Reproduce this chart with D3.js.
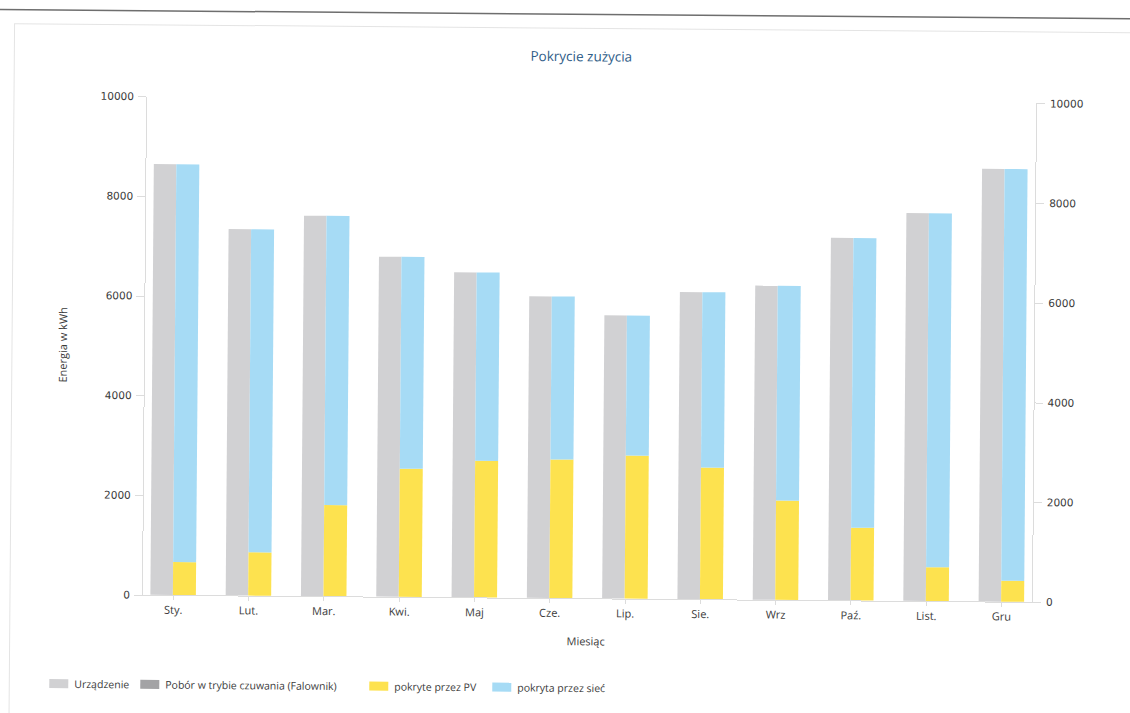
<!DOCTYPE html>
<html>
<head>
<meta charset="utf-8">
<script src="https://cdn.jsdelivr.net/npm/d3@7"></script>
<style>
  body { margin: 0; background: #fff; }
  svg { display: block; }
  .axis path, .axis line { stroke: #dcdcdc; shape-rendering: crispEdges; }
  .axis text { fill: #3a3a3a; }
</style>
</head>
<body>
<div id="chart"></div>
<script>
// data (kWh)
var months = ["Sty.", "Lut.", "Mar.", "Kwi.", "Maj", "Cze.", "Lip.", "Sie.", "Wrz", "Paź.", "List.", "Gru"];
var urzadzenie = [8640, 7350, 7630, 6820, 6520, 6050, 5680, 6160, 6300, 7270, 7780, 8680];
var czuwanie = [0, 0, 0, 0, 0, 0, 0, 0, 0, 0, 0, 0];
var pokrytePV = [660, 870, 1830, 2570, 2740, 2780, 2870, 2640, 1990, 1460, 680, 420];
var pokryteSiec = [7980, 6480, 5800, 4250, 3780, 3270, 2810, 3520, 4310, 5810, 7100, 8260];
var yTicks = [0, 2000, 4000, 6000, 8000, 10000];
var legendNames = ["Urządzenie", "Pobór w trybie czuwania (Falownik)", "pokryte przez PV", "pokryta przez sieć"];

var W = 1130, H = 713;
var plotL = 142, plotR = 1032, plotT = 96.5, plotB = 595;
var cGray = "#d1d1d3", cDark = "#a3a3a5", cYellow = "#fde24f", cBlue = "#a6dbf5";

var svg = d3.select("#chart").append("svg")
    .attr("width", W)
    .attr("height", H);

// the scan is slightly tilted, so everything goes in one rotated group
var g = svg.append("g")
    .attr("transform", "rotate(0.46,175,595)");

// page lines / frame
g.append("line")
    .attr("x1", -20).attr("x2", W + 20)
    .attr("y1", 11).attr("y2", 11)
    .attr("stroke", "#6e6e6e").attr("stroke-width", 1.5);
g.append("rect")
    .attr("x", 10).attr("y", 25)
    .attr("width", W + 40).attr("height", H)
    .attr("fill", "none").attr("stroke", "#e4e4e4");

g.append("text")
    .attr("x", 577).attr("y", 58)
    .attr("text-anchor", "middle")
    .style("font-family", "'Open Sans', sans-serif")
    .style("font-size", "13.5px")
    .style("fill", "#2f5d88")
    .text("Pokrycie zużycia");

var x = d3.scalePoint()
    .domain(months)
    .range([plotL, plotR])
    .padding(0.41);

var y = d3.scaleLinear()
    .domain([0, 10000])
    .range([plotB, plotT]);

var barW = 22.5;
var fmt = d3.format("d");

// left axis
var yl = g.append("g")
    .attr("class", "axis")
    .attr("transform", "translate(" + plotL + ",0)")
    .call(d3.axisLeft(y).tickValues(yTicks).tickFormat(fmt).tickSize(8).tickPadding(4).tickSizeOuter(0));
yl.selectAll("text").style("font-family", "'DejaVu Sans', sans-serif").style("font-size", "10.5px");

// right axis
var yr = g.append("g")
    .attr("class", "axis")
    .attr("transform", "translate(" + plotR + ",0)")
    .call(d3.axisRight(y).tickValues(yTicks).tickFormat(fmt).tickSize(9).tickPadding(5).tickSizeOuter(0));
yr.selectAll("text").style("font-family", "'DejaVu Sans', sans-serif").style("font-size", "10.5px");

// bars: gray stack (device + standby) and coverage stack (PV + grid)
var rows = months.map(function(m, i) {
  return {m: m, dev: urzadzenie[i], stb: czuwanie[i], pv: pokrytePV[i], grid: pokryteSiec[i]};
});

var bars = g.append("g");
bars.selectAll(".dev").data(rows).enter().append("rect")
    .attr("x", function(d) { return x(d.m) - barW; })
    .attr("y", function(d) { return y(d.dev); })
    .attr("width", barW)
    .attr("height", function(d) { return y(0) - y(d.dev); })
    .attr("fill", cGray);
bars.selectAll(".stb").data(rows).enter().append("rect")
    .attr("x", function(d) { return x(d.m) - barW; })
    .attr("y", function(d) { return y(d.dev + d.stb); })
    .attr("width", barW)
    .attr("height", function(d) { return y(d.dev) - y(d.dev + d.stb); })
    .attr("fill", cDark);
bars.selectAll(".pv").data(rows).enter().append("rect")
    .attr("x", function(d) { return x(d.m); })
    .attr("y", function(d) { return y(d.pv); })
    .attr("width", barW + 0.5)
    .attr("height", function(d) { return y(0) - y(d.pv); })
    .attr("fill", cYellow);
bars.selectAll(".grid").data(rows).enter().append("rect")
    .attr("x", function(d) { return x(d.m); })
    .attr("y", function(d) { return y(d.pv + d.grid); })
    .attr("width", barW + 0.5)
    .attr("height", function(d) { return y(d.pv) - y(d.pv + d.grid); })
    .attr("fill", cBlue);

// bottom axis
var xa = g.append("g")
    .attr("class", "axis")
    .attr("transform", "translate(0," + plotB + ")")
    .call(d3.axisBottom(x).tickSize(5).tickPadding(6).tickSizeOuter(0));
xa.selectAll("text").style("font-family", "'Open Sans', sans-serif").style("font-size", "11px");

g.append("text")
    .attr("x", 586).attr("y", 642)
    .attr("text-anchor", "middle")
    .style("font-family", "'Open Sans', sans-serif")
    .style("font-size", "11px")
    .style("fill", "#3a3a3a")
    .text("Miesiąc");

g.append("text")
    .attr("transform", "translate(65," + ((plotT + plotB) / 2) + ") rotate(-90)")
    .attr("text-anchor", "middle")
    .style("font-family", "'Open Sans', sans-serif")
    .style("font-size", "11px")
    .style("fill", "#3a3a3a")
    .text("Energia w kWh");

// legend
var legX = [50, 141, 370, 493];
var legC = [cGray, cDark, cYellow, cBlue];
var leg = g.selectAll(".leg").data(legendNames).enter().append("g")
    .attr("transform", function(d, i) { return "translate(" + legX[i] + ",685)"; });
leg.append("rect")
    .attr("x", 0).attr("y", -5)
    .attr("width", 19).attr("height", 9)
    .attr("fill", function(d, i) { return legC[i]; });
leg.append("text")
    .attr("x", 25).attr("y", 0)
    .attr("dy", "0.35em")
    .style("font-family", "'Open Sans', sans-serif")
    .style("font-size", "10.5px")
    .style("fill", "#3a3a3a")
    .text(function(d) { return d; });
</script>
</body>
</html>
